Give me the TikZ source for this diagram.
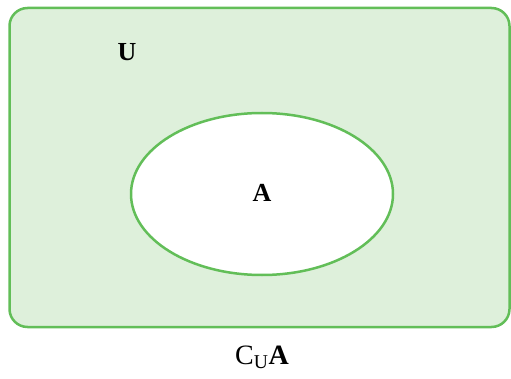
\documentclass[tikz,border=0pt]{standalone}
\usepackage{fontspec}
\setmainfont{Liberation Serif}
\usetikzlibrary{shapes.geometric}
\definecolor{setfill}{RGB}{222,240,219}
\definecolor{setline}{RGB}{98,190,88}
\tikzset{
  setline/.style={draw=setline, line width=2.5pt},
  lbl/.style={font=\fontsize{26}{30}\selectfont\bfseries, inner sep=0pt}
}
\begin{document}
\begin{tikzpicture}[x=1pt,y=1pt]
\useasboundingbox (0,0) rectangle (511,378);
\node[setline, fill=setfill, rounded corners=18pt, minimum width=500pt, minimum height=319pt, inner sep=0pt] (U) at (259.5,210.5) {};
\node[setline, fill=white, ellipse, minimum width=262pt, minimum height=162pt, inner sep=0pt] (A) at (262,184) {};
\node[lbl] (uL) at (127,326) {U};
\node[lbl] (aL) at (262,185) {A};
\node[font=\fontsize{28}{32}\selectfont, inner sep=0pt] (c) at (262,21) {C\textsubscript{U}\textbf{A}};
\end{tikzpicture}
\end{document}
